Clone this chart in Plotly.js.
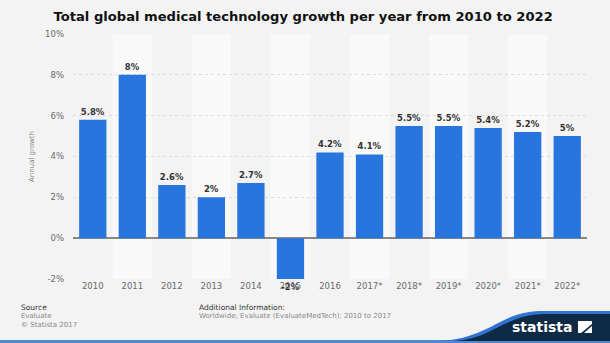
<!DOCTYPE html>
<html>
<head>
<meta charset="utf-8">
<script src="https://cdn.plot.ly/plotly-3.0.1.min.js"></script>
<style>
html,body{margin:0;padding:0;background:#f3f3f3;}
#chart{width:610px;height:343px;}
</style>
</head>
<body>
<div id="chart"></div>
<script>
const categories = ["2010","2011","2012","2013","2014","2015","2016","2017*","2018*","2019*","2020*","2021*","2022*"];
const growth = [5.8, 8, 2.6, 2, 2.7, -2, 4.2, 4.1, 5.5, 5.5, 5.4, 5.2, 5];
const valueLabels = ["5.8%","8%","2.6%","2%","2.7%","-2%","4.2%","4.1%","5.5%","5.5%","5.4%","5.2%","5%"];
const yTickVals = [-2, 0, 2, 4, 6, 8, 10];
const yTickText = ["-2%","0%","2%","4%","6%","8%","10%"];

const W = 610, H = 343;
const M = {l: 73, r: 23, t: 34, b: 64};
const pw = W - M.l - M.r, ph = H - M.t - M.b;
const px = x => (x - M.l) / pw;
const py = y => (H - M.b - y) / ph;

const shapes = [];
categories.forEach((c, i) => {
  if (i % 2 === 1) {
    shapes.push({type: 'rect', xref: 'x', yref: 'paper', x0: i - 0.5, x1: i + 0.5, y0: 0, y1: 1,
      fillcolor: '#f9f9f9', line: {width: 0}, layer: 'below'});
  }
});
// footer bottom line
shapes.push({type: 'rect', xref: 'paper', yref: 'paper', x0: px(0), x1: px(610), y0: py(343), y1: py(340),
  fillcolor: '#4f88cf', line: {width: 0}});
// logo blue edge
shapes.push({type: 'path', xref: 'paper', yref: 'paper',
  path: `M ${px(440)} ${py(341)} C ${px(490)} ${py(338)}, ${px(500)} ${py(312)}, ${px(540)} ${py(311)} L ${px(610)} ${py(311)} L ${px(610)} ${py(341)} Z`,
  fillcolor: '#2f74d0', line: {width: 0}});
// logo navy
shapes.push({type: 'path', xref: 'paper', yref: 'paper',
  path: `M ${px(455)} ${py(341)} C ${px(495)} ${py(338)}, ${px(505)} ${py(314)}, ${px(545)} ${py(314)} L ${px(610)} ${py(314)} L ${px(610)} ${py(341)} Z`,
  fillcolor: '#0f2a44', line: {width: 0}});
// logo icon
shapes.push({type: 'path', xref: 'paper', yref: 'paper',
  path: `M ${px(578)} ${py(321)} L ${px(592)} ${py(321)} L ${px(592)} ${py(324)} L ${px(581)} ${py(333)} L ${px(578)} ${py(333)} Z`,
  fillcolor: '#ffffff', line: {width: 0}});
shapes.push({type: 'path', xref: 'paper', yref: 'paper',
  path: `M ${px(592)} ${py(326)} L ${px(592)} ${py(333)} L ${px(584)} ${py(333)} Z`,
  fillcolor: '#ffffff', line: {width: 0}});

const foot = (x, y, text, color, size, bold) => ({
  xref: 'paper', yref: 'paper', x: px(x), y: py(y), xanchor: 'left', yanchor: 'middle',
  text: bold ? '<b>' + text + '</b>' : text, showarrow: false,
  font: {family: 'DejaVu Sans, sans-serif', size: size, color: color}
});

const annotations = [
  foot(19, 307, 'Source', '#333', 7.5),
  foot(19, 316, 'Evaluate', '#888', 7),
  foot(19, 325, '© Statista 2017', '#888', 7),
  foot(197, 307, 'Additional Information:', '#333', 7.5),
  foot(197, 316, 'Worldwide; Evaluate (EvaluateMedTech); 2010 to 2017', '#888', 7),
  {xref: 'paper', yref: 'paper', x: px(574), y: py(327), xanchor: 'right', yanchor: 'middle',
   text: '<b>statista</b>', showarrow: false,
   font: {family: 'DejaVu Sans, sans-serif', size: 14, color: '#ffffff'}}
];

const trace = {
  type: 'bar', x: categories, y: growth, text: valueLabels,
  textposition: 'outside', cliponaxis: false,
  textfont: {family: 'DejaVu Sans, sans-serif', size: 8.5, color: '#333', weight: 'bold'},
  marker: {color: '#2876dd'}, width: 0.69, hoverinfo: 'skip'
};

const layout = {
  width: W, height: H,
  margin: {l: M.l, r: M.r, t: M.t, b: M.b},
  paper_bgcolor: '#f3f3f3', plot_bgcolor: '#f3f3f3',
  showlegend: false,
  title: {text: '<b>Total global medical technology growth per year from 2010 to 2022</b>',
    x: 0.497, xref: 'container', xanchor: 'center', y: 1 - 16 / H, yref: 'container', yanchor: 'middle',
    font: {family: 'DejaVu Sans, sans-serif', size: 13.1, color: '#111'}},
  xaxis: {type: 'category', range: [-0.5, categories.length - 0.5], showgrid: false,
    zeroline: false, showline: false, ticks: '',
    tickfont: {family: 'DejaVu Sans, sans-serif', size: 8.5, color: '#6a6a6a'}},
  yaxis: {range: [-2, 10], tickvals: yTickVals, ticktext: yTickText,
    showgrid: true, gridcolor: '#dedede', griddash: 'dot', gridwidth: 1,
    zeroline: true, zerolinecolor: '#888', zerolinewidth: 1.5,
    ticks: '', ticklabelstandoff: 8,
    tickfont: {family: 'DejaVu Sans, sans-serif', size: 8.5, color: '#6a6a6a'},
    title: {text: 'Annual growth', standoff: 9,
      font: {family: 'DejaVu Sans, sans-serif', size: 7, color: '#888'}}},
  shapes: shapes, annotations: annotations,
  bargap: 0.3
};

Plotly.newPlot('chart', [trace], layout, {staticPlot: true, displayModeBar: false});
</script>
</body>
</html>
